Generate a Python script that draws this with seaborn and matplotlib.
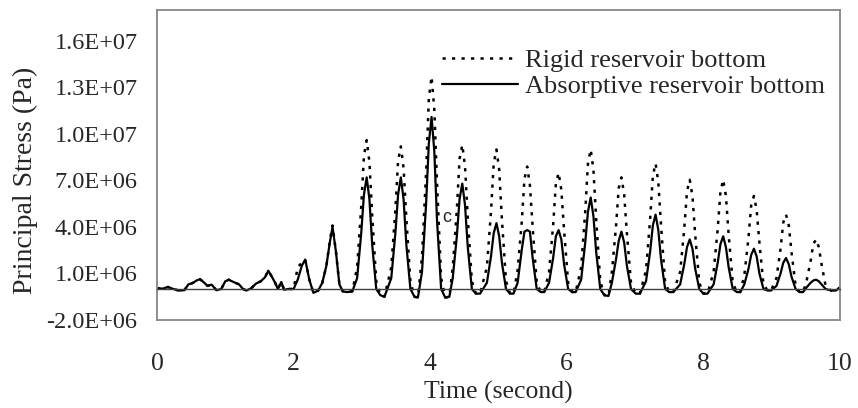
import numpy as np
import pandas as pd
import matplotlib
matplotlib.use("Agg")
import matplotlib.pyplot as plt
from matplotlib.ticker import FuncFormatter
import seaborn as sns

# values, stress in 1E+06 Pa
time_s = [0.00, 0.08, 0.16, 0.24, 0.32, 0.40, 0.46, 0.52, 0.58, 0.63, 0.68, 0.74, 0.80, 0.87, 0.94, 1.00,
          1.05, 1.12, 1.20, 1.26, 1.31, 1.38, 1.45, 1.52, 1.58, 1.63, 1.68, 1.73, 1.77, 1.82, 1.86, 1.92,
          2.00, 2.06, 2.12, 2.17, 2.23, 2.29, 2.36, 2.42, 2.48, 2.53, 2.57, 2.62, 2.67, 2.72, 2.78, 2.86,
          2.93, 2.99, 3.03, 3.07, 3.11, 3.15, 3.21, 3.27, 3.33,
          3.43, 3.49, 3.53, 3.57, 3.61, 3.65, 3.71, 3.77, 3.82,
          3.88, 3.94, 3.98, 4.02, 4.06, 4.10, 4.16, 4.22, 4.28,
          4.33, 4.39, 4.43, 4.47, 4.51, 4.55, 4.61, 4.67, 4.73,
          4.83, 4.89, 4.93, 4.97, 5.01, 5.05, 5.11, 5.17, 5.22,
          5.28, 5.34, 5.38, 5.42, 5.46, 5.50, 5.56, 5.62, 5.67,
          5.74, 5.80, 5.84, 5.88, 5.92, 5.96, 6.02, 6.08, 6.13,
          6.21, 6.27, 6.31, 6.35, 6.39, 6.43, 6.49, 6.55, 6.61,
          6.66, 6.72, 6.76, 6.80, 6.84, 6.88, 6.94, 7.01, 7.07,
          7.16, 7.22, 7.26, 7.30, 7.34, 7.38, 7.44, 7.50, 7.56,
          7.66, 7.72, 7.76, 7.80, 7.84, 7.88, 7.94, 8.00, 8.06,
          8.15, 8.21, 8.25, 8.29, 8.33, 8.37, 8.43, 8.49, 8.54,
          8.60, 8.66, 8.70, 8.74, 8.78, 8.82, 8.88, 8.94, 8.99,
          9.07, 9.13, 9.17, 9.21, 9.25, 9.29, 9.35, 9.41, 9.46,
          9.51, 9.57, 9.61, 9.65, 9.69, 9.73, 9.79, 9.87, 9.94, 10.00]

absorptive = [0.05, 0.02, 0.13, 0.00, -0.10, -0.08, 0.30, 0.38, 0.55, 0.63, 0.45, 0.20, 0.28, -0.08, 0.00, 0.50,
              0.60, 0.45, 0.30, 0.00, -0.10, 0.05, 0.35, 0.50, 0.75, 1.18, 0.80, 0.40, 0.00, 0.45, -0.05, 0.00,
              0.00, 0.60, 1.50, 1.90, 0.60, -0.25, -0.10, 0.40, 1.50, 3.00, 4.00, 2.40, 0.30, -0.15, -0.20, -0.15,
              0.7, 3.6, 6.1, 7.2, 5.8, 2.9, 0.0, -0.4, -0.5,
              0.7, 3.6, 6.1, 7.2, 5.8, 2.9, 0.0, -0.5, -0.55,
              1.1, 5.5, 9.4, 11.1, 8.9, 4.4, 0.0, -0.55, -0.5,
              0.7, 3.4, 5.8, 6.8, 5.4, 2.7, 0.0, -0.3, -0.3,
              0.4, 2.1, 3.6, 4.25, 3.4, 1.7, 0.0, -0.3, -0.3,
              0.4, 2.5, 3.7, 3.8, 3.7, 2.0, 0.0, -0.2, -0.2,
              0.4, 2.0, 3.4, 3.8, 3.2, 1.6, 0.0, -0.2, -0.2,
              0.6, 3.0, 5.0, 5.9, 4.7, 2.4, 0.0, -0.4, -0.45,
              0.4, 1.9, 3.1, 3.7, 3.0, 1.5, 0.0, -0.3, -0.3,
              0.5, 2.4, 4.1, 4.8, 3.8, 1.9, 0.0, -0.2, -0.2,
              0.3, 1.6, 2.7, 3.2, 2.6, 1.3, 0.0, -0.3, -0.3,
              0.3, 1.7, 2.9, 3.4, 2.7, 1.4, 0.0, -0.2, -0.2,
              0.3, 1.3, 2.2, 2.6, 2.1, 1.0, 0.0, -0.1, -0.1,
              0.2, 1.0, 1.7, 2.0, 1.6, 0.8, 0.0, -0.2, -0.2,
              0.1, 0.4, 0.55, 0.6, 0.5, 0.3, 0.0, -0.1, -0.1, 0.1]

rigid = [0.05, 0.02, 0.13, 0.00, -0.10, -0.08, 0.30, 0.38, 0.55, 0.63, 0.45, 0.20, 0.28, -0.08, 0.00, 0.50,
         0.60, 0.45, 0.30, 0.00, -0.10, 0.05, 0.35, 0.50, 0.75, 1.18, 0.80, 0.40, 0.00, 0.45, -0.05, 0.00,
         0.00, 1.40, 1.70, 1.90, 0.60, -0.25, -0.10, 0.40, 1.50, 3.10, 4.10, 2.40, 0.30, -0.15, -0.20, -0.15,
         1.4, 5.3, 8.6, 9.6, 8.2, 4.8, 0.5, -0.4, -0.5,
         1.4, 5.1, 8.3, 9.2, 7.8, 4.6, 0.5, -0.5, -0.55,
         2.1, 7.5, 12.3, 13.7, 11.6, 6.8, 0.7, -0.55, -0.5,
         1.4, 5.1, 8.4, 9.3, 7.9, 4.6, 0.5, -0.3, -0.3,
         1.4, 5.0, 8.1, 9.0, 7.7, 4.5, 0.5, -0.3, -0.3,
         1.2, 4.3, 7.1, 7.9, 6.7, 4.0, 0.4, -0.2, -0.2,
         1.1, 4.1, 6.8, 7.5, 6.4, 3.8, 0.4, -0.2, -0.2,
         1.4, 5.0, 8.1, 9.0, 7.7, 4.5, 0.5, -0.4, -0.45,
         1.1, 4.0, 6.5, 7.2, 6.1, 3.6, 0.4, -0.3, -0.3,
         1.2, 4.5, 7.3, 8.1, 6.9, 4.1, 0.4, -0.2, -0.2,
         1.1, 3.9, 6.3, 7.05, 6.0, 3.5, 0.4, -0.3, -0.3,
         1.1, 3.9, 6.3, 7.05, 6.0, 3.5, 0.4, -0.2, -0.2,
         0.9, 3.3, 5.4, 6.0, 5.1, 3.0, 0.3, -0.1, -0.1,
         0.7, 2.6, 4.3, 4.8, 4.1, 2.4, 0.2, -0.2, -0.2,
         0.5, 1.8, 2.9, 3.2, 2.7, 1.6, 0.2, -0.1, -0.1, 0.1]

x_ticks = [0, 2, 4, 6, 8, 10]
y_ticks = [-2.0e6, 1.0e6, 4.0e6, 7.0e6, 1.0e7, 1.3e7, 1.6e7]

df = pd.DataFrame({"t": time_s,
                   "rigid": np.array(rigid) * 1e6,
                   "absorptive": np.array(absorptive) * 1e6})

sns.set_style("white")
plt.rcParams['font.family'] = ['Liberation Serif', 'DejaVu Serif']
plt.rcParams['font.size'] = 17.5

fig, ax = plt.subplots(figsize=(8.58, 4.08), dpi=100)
fig.subplots_adjust(left=0.183, right=0.979, top=0.9755, bottom=0.2157)

sns.lineplot(data=df, x="t", y="rigid", ax=ax, color="black", lw=1.8, linestyle=(0, (1.3, 2.5)),
             estimator=None, sort=False, label="Rigid reservoir bottom")
sns.lineplot(data=df, x="t", y="absorptive", ax=ax, color="black", lw=1.6,
             estimator=None, sort=False, label="Absorptive reservoir bottom")

ax.set_xlim(0, 10)
ax.set_ylim(-2e6, 1.8e7)
ax.set_yticks(y_ticks)
ax.yaxis.set_major_formatter(FuncFormatter(lambda v, p: f"{v:.1E}"))
ax.tick_params(axis="y", length=0, pad=14, labelsize=17.5)
ax.set_ylabel("Principal Stress (Pa)", fontsize=20)
ax.yaxis.set_label_coords(-0.174, 0.452)

# frame in grey, zero line carries the tick marks
for s in ["top", "left", "right"]:
    ax.spines[s].set_color("#868686")
    ax.spines[s].set_linewidth(1.3)
ax.spines["bottom"].set_position(("data", 0))
ax.spines["bottom"].set_color("#404040")
ax.spines["bottom"].set_linewidth(1.0)
ax.set_xticks(x_ticks)
ax.tick_params(axis="x", direction="out", length=5, width=1, color="#404040", labelbottom=False)
ax.set_xlabel("")

sec = ax.secondary_xaxis("bottom")
sec.set_xticks(x_ticks)
sec.tick_params(length=0, pad=24, labelsize=18.5)
sec.spines["bottom"].set_color("#868686")
sec.spines["bottom"].set_linewidth(1.3)
sec.set_xlabel("Time (second)", labelpad=4, fontsize=18.5)

ax.text(4.17, 4.3e6, "c", fontsize=13, family="Liberation Sans")

ax.legend(loc="upper left", bbox_to_anchor=(0.417, 0.875), frameon=False, handlelength=2.9,
          handletextpad=0.25, labelspacing=0.1, borderpad=0, borderaxespad=0, fontsize=19)

plt.savefig("out.png", dpi=100)
